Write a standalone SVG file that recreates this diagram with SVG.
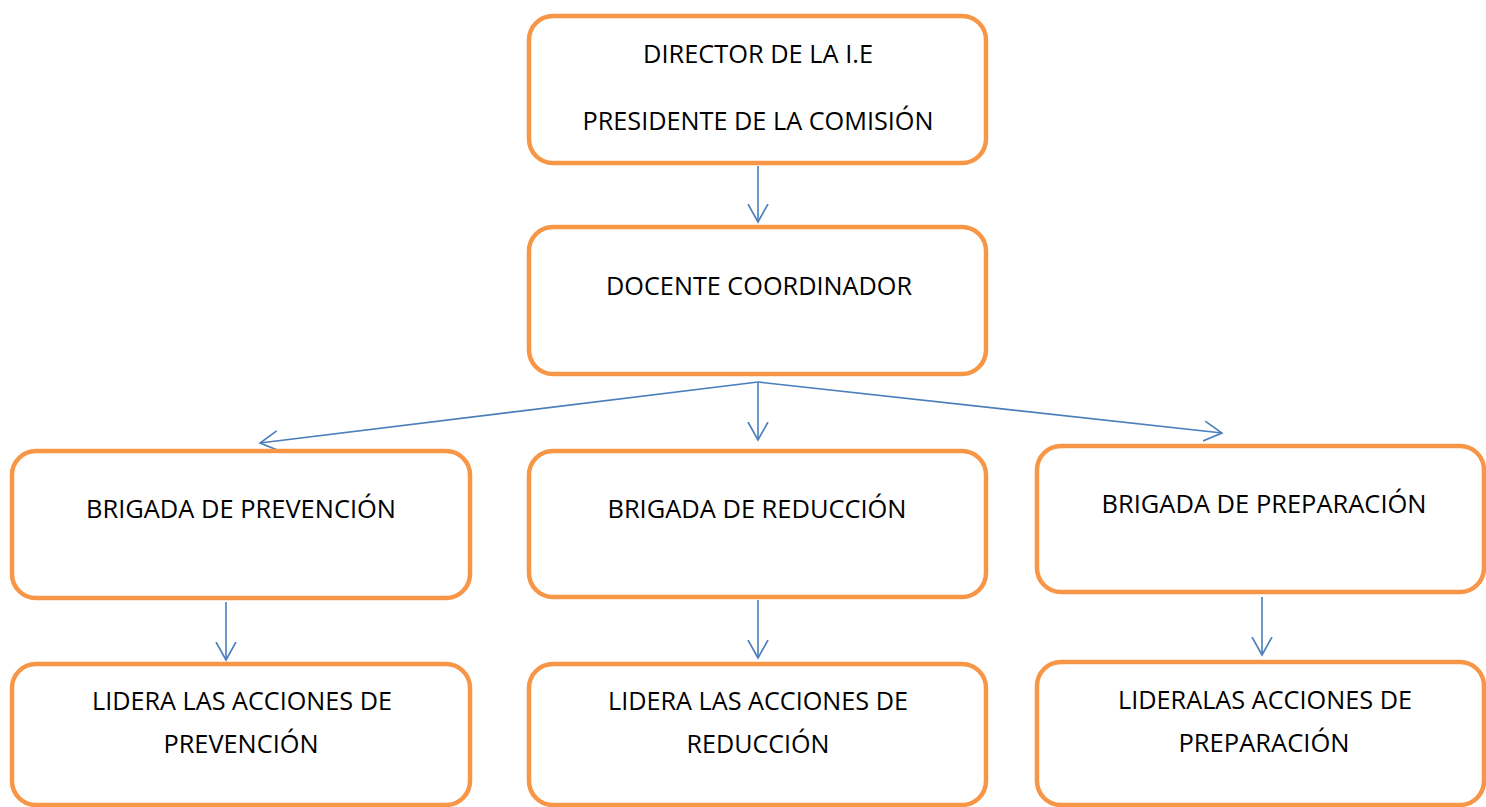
<svg xmlns="http://www.w3.org/2000/svg" width="1486" height="807" viewBox="0 0 1486 807">
<style>
.box{fill:#fff;stroke:#F79646;stroke-width:4.5}
.t{font-family:"Open Sans","Liberation Sans",sans-serif;font-size:25px;fill:#000;text-anchor:middle}
.c{stroke:#4A7EBB;stroke-width:1.6;fill:none;marker-end:url(#ah)}
</style>
<defs>
<marker id="ah" viewBox="0 0 20 22" refX="18" refY="11" markerWidth="20" markerHeight="22" markerUnits="userSpaceOnUse" orient="auto">
<path d="M0,1 L18,11 L0,21" fill="none" stroke="#4A7EBB" stroke-width="1.6"/>
</marker>
</defs>
<rect width="1486" height="807" fill="#fff"/>
<g id="connectors">
<line class="c" x1="758" y1="166" x2="758" y2="222"/>
<line class="c" x1="758" y1="382" x2="260" y2="443"/>
<line class="c" x1="758" y1="382" x2="758" y2="440"/>
<line class="c" x1="758" y1="382" x2="1222" y2="433"/>
<line class="c" x1="226" y1="602" x2="226" y2="660"/>
<line class="c" x1="758" y1="600" x2="758" y2="658"/>
<line class="c" x1="1262" y1="597" x2="1262" y2="655"/>
</g>
<g id="director">
<rect class="box" x="529" y="16" width="457" height="147" rx="24"/>
<text class="t" x="758" y="63" textLength="230" lengthAdjust="spacingAndGlyphs">DIRECTOR DE LA I.E</text>
<text class="t" x="758" y="130" textLength="351" lengthAdjust="spacingAndGlyphs">PRESIDENTE DE LA COMISIÓN</text>
</g>
<g id="coordinador">
<rect class="box" x="529" y="227" width="457" height="147" rx="24"/>
<text class="t" x="759" y="295" textLength="306" lengthAdjust="spacingAndGlyphs">DOCENTE COORDINADOR</text>
</g>
<g id="prevencion">
<rect class="box" x="12" y="451" width="458" height="147" rx="24"/>
<text class="t" x="241" y="518" textLength="310" lengthAdjust="spacingAndGlyphs">BRIGADA DE PREVENCIÓN</text>
</g>
<g id="reduccion">
<rect class="box" x="529" y="451" width="457" height="146" rx="24"/>
<text class="t" x="757" y="518" textLength="299" lengthAdjust="spacingAndGlyphs">BRIGADA DE REDUCCIÓN</text>
</g>
<g id="preparacion">
<rect class="box" x="1037" y="446" width="447" height="146" rx="24"/>
<text class="t" x="1264" y="513" textLength="325" lengthAdjust="spacingAndGlyphs">BRIGADA DE PREPARACIÓN</text>
</g>
<g id="lidera-prevencion">
<rect class="box" x="12" y="664" width="458" height="141" rx="24"/>
<text class="t" x="242" y="710" textLength="300" lengthAdjust="spacingAndGlyphs">LIDERA LAS ACCIONES DE</text>
<text class="t" x="241" y="753" textLength="155" lengthAdjust="spacingAndGlyphs">PREVENCIÓN</text>
</g>
<g id="lidera-reduccion">
<rect class="box" x="529" y="664" width="457" height="141" rx="24"/>
<text class="t" x="758" y="710" textLength="300" lengthAdjust="spacingAndGlyphs">LIDERA LAS ACCIONES DE</text>
<text class="t" x="758" y="753" textLength="143" lengthAdjust="spacingAndGlyphs">REDUCCIÓN</text>
</g>
<g id="lidera-preparacion">
<rect class="box" x="1037" y="662" width="447" height="143" rx="24"/>
<text class="t" x="1265" y="709" textLength="294" lengthAdjust="spacingAndGlyphs">LIDERALAS ACCIONES DE</text>
<text class="t" x="1264" y="752" textLength="171" lengthAdjust="spacingAndGlyphs">PREPARACIÓN</text>
</g>
</svg>
